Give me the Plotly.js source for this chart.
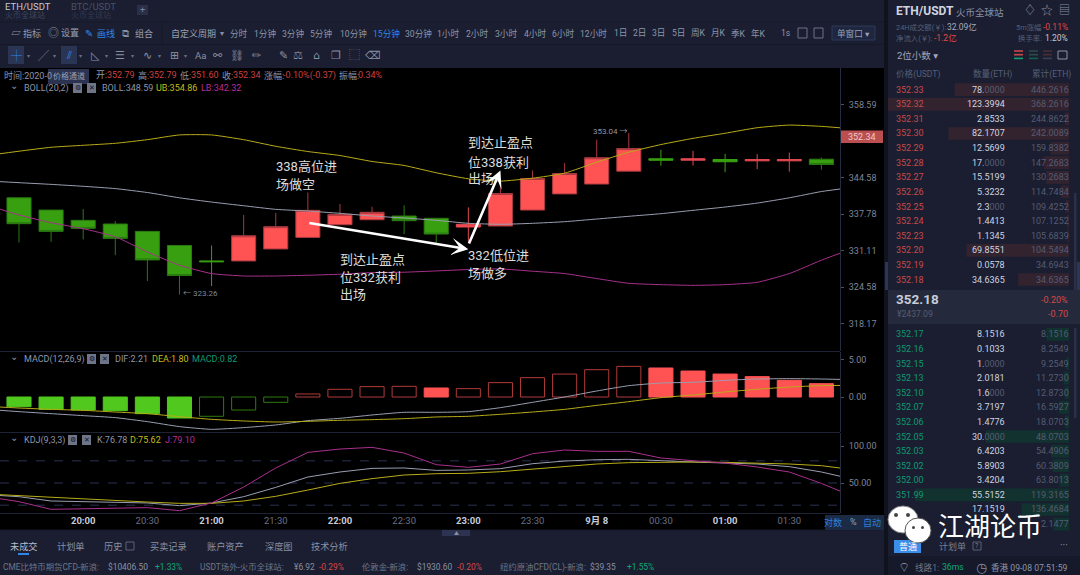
<!DOCTYPE html>
<html><head><meta charset="utf-8">
<script src="https://cdn.plot.ly/plotly-3.0.1.min.js"></script>
<style>html,body{margin:0;padding:0;background:#1a1e30;overflow:hidden}#c{width:1080px;height:575px}</style>
</head><body><div id="c"></div>
<script>
// ---------- chart data ----------
const candleTimes=['19:30','19:45','20:00','20:15','20:30','20:45','21:00','21:15','21:30','21:45','22:00','22:15','22:30','22:45','23:00','23:15','23:30','23:45','00:00','00:15','00:30','00:45','01:00','01:15','01:30','01:45'];
const open_=[340.78,338.51,336.62,335.94,334.6,332.03,329.24,329.24,331.4,333.5,335.81,336.73,337.41,336.99,335.39,335.58,338.51,341.51,343.35,345.77,348.12,347.85,347.98,347.73,347.73,348.04];
const high_=[340.78,338.51,338.7,336.49,334.6,332.03,332.03,337.6,337.96,341.77,339.62,339.12,339.38,336.99,339.01,344.21,345.9,347.29,351.77,353.04,349.82,349.63,349.06,349.0,349.3,348.37];
const low_=[332.58,332.69,333.13,330.27,325.66,323.26,324.76,329.24,331.4,333.5,335.81,336.73,334.11,332.27,332.69,335.58,338.51,341.51,343.35,345.77,346.79,346.85,345.58,346.16,345.7,346.04];
const close_=[336.0,334.6,335.15,333.32,329.42,326.63,329.1,333.79,335.45,338.46,337.72,338.09,336.55,334.11,335.89,341.58,344.4,345.33,348.31,350.07,347.85,348.12,347.55,347.98,347.98,347.04];
const lineTimes=['19:15'].concat(candleTimes,['02:00']);
const bollUp=[348.74,349.56,350.31,350.69,351.07,351.77,352.68,352.68,351.77,350.5,349.5,348.74,347.61,346.85,345.47,344.34,343.9,344.45,345.39,347.48,349.37,350.83,352.02,353.0,354.07,354.58,354.33,353.84];
const bollMid=[343.94,343.61,343.29,342.93,342.5,341.77,340.78,339.99,339.31,338.64,338.33,337.91,337.41,337.05,336.62,336.07,335.89,336.07,336.37,336.86,337.36,337.84,338.46,339.07,339.8,340.78,341.95,342.74];
const bollLow=[339.44,337.6,336.18,335.08,333.61,330.86,328.47,326.98,326.55,326.55,326.68,326.86,327.16,327.22,327.45,327.7,327.81,327.4,326.98,326.09,325.24,325.01,324.88,325.01,325.42,326.98,329.37,331.53];
const macdHist=[-1.31,-1.67,-1.76,-1.85,-2.25,-2.84,-2.61,-1.76,-0.72,0.41,1.04,1.40,1.44,1.22,1.13,1.94,2.61,3.1,3.69,4.14,3.92,3.51,3.1,2.75,2.25,1.8];
const macdHollow=[0,0,0,0,0,0,1,1,1,1,1,1,1,0,1,1,1,1,1,1,0,0,0,0,0,0];
const dif=[-1.67,-1.98,-2.25,-2.52,-2.79,-3.33,-4.0,-4.37,-4.14,-3.78,-3.2,-2.88,-2.43,-2.07,-2.07,-1.98,-1.44,-0.72,0,0.81,1.53,1.89,1.98,2.25,2.43,2.48,2.43,2.34];
const dea=[-1.26,-1.49,-1.67,-1.8,-2.03,-2.25,-2.66,-3.02,-3.24,-3.38,-3.29,-3.15,-3.06,-2.93,-2.7,-2.61,-2.34,-2.03,-1.67,-1.13,-0.63,-0.09,0.27,0.68,1.04,1.35,1.53,1.58];
const kdjK=[34.2,31.5,25.7,24.8,23.9,23.0,19.4,23.0,31.5,44.1,58.1,64.9,69.8,70.3,67.1,67.6,69.4,76.1,79.7,81.5,82.0,79.7,78.4,77.0,75.7,72.1,64.9,55];
const kdjD=[35.1,32.9,30.2,28.4,26.1,24.3,22.5,22.5,25.7,32.0,40.5,49.5,55.9,60.8,62.6,63.1,65.3,68.5,72.5,75.7,77.5,78.4,78.4,77.9,77.0,75.7,73.4,68];
const kdjJ=[31.5,24.8,14.4,14.9,15.8,16.7,12.6,23.0,44.6,70.3,91.4,95.9,98.2,90.5,74.8,71.2,75.7,89.6,94.6,92.8,92.8,83.8,80.2,77.0,71.6,64.9,49.5,31.5];
const kdjLevels=[80,50,20];
const priceTicks=[358.59,344.58,337.78,331.11,324.58,318.17];
const macdTicks=[5,0];
const kdjTicks=[100,50];
const xTickVals=['20:00','20:30','21:00','21:30','22:00','22:30','23:00','23:30','00:00','00:30','01:00','01:30'];
const xTickText=['20:00','20:30','21:00','21:30','22:00','22:30','23:00','23:30','9月 8','00:30','01:00','01:30'];
// order book
const askPrice=['352.33','352.32','352.31','352.30','352.29','352.28','352.27','352.26','352.25','352.24','352.23','352.20','352.19','352.18'];
const askQty=['78.0000','123.3994','2.8533','82.1707','12.5699','17.0000','15.5199','5.3232','2.3000','1.4413','1.1345','69.8551','0.0578','34.6365'];
const askCum=['446.2616','368.2616','244.8622','242.0089','159.8382','147.2683','130.2683','114.7484','109.4252','107.1252','105.6839','104.5494','34.6943','34.6365'];
const bidPrice=['352.17','352.16','352.15','352.13','352.10','352.07','352.06','352.05','352.03','352.02','352.00','351.99','351.98','351.97'];
const bidQty=['8.1516','0.1033','1.0000','2.0181','1.6000','3.7197','1.4776','30.0000','6.4203','5.8903','3.4204','55.5152','17.1519','5.6793'];
const bidCum=['8.1516','8.2549','9.2549','11.2730','12.8730','16.5927','18.0703','48.0703','54.4906','60.3809','63.8013','119.3165','136.4684','152.1477'];
const periods=[['分时',239],['1分钟',265],['3分钟',293],['5分钟',321],['10分钟',353],['15分钟',386],['30分钟',418],['1小时',448],['2小时',477],['3小时',506],['4小时',535],['6小时',563],['12小时',593],['1日',620],['2日',639],['3日',658],['5日',678],['周K',698],['月K',718],['季K',738],['年K',758],['1s',786]];
const notes=[['338高位进',276,166],['场做空',276,184],['到达止盈点',340,259],['位332获利',340,277],['出场',340,294],['到达止盈点',468,143],['位338获利',468,162],['出场',468,178],['332低位进',468,256],['场做多',468,273]];
const tabs=[['未成交',10,'#b8bccb'],['计划单',57,'#8a90a4'],['历史',104,'#8a90a4'],['买卖记录',150,'#8a90a4'],['账户资产',207,'#8a90a4'],['深度图',265,'#8a90a4'],['技术分析',311,'#8a90a4']];
const tickerBits=[['CME比特币期货CFD-新浪:',3,'#6f7588'],['$10406.50',108,'#8a90a4'],['+1.33%',155,'#12a878'],['USDT场外-火币全球站:',200,'#6f7588'],['¥6.92',294,'#8a90a4'],['-0.29%',319,'#d84848'],['伦敦金-新浪:',362,'#6f7588'],['$1930.60',417,'#8a90a4'],['-0.20%',457,'#d84848'],['纽约原油CFD(CL)-新浪:',500,'#6f7588'],['$39.35',590,'#8a90a4'],['+1.55%',627,'#12a878']];
const toolIcons=[['┼',16,'#2f86e8'],['╱',43,'#8a90a4'],['⫽',69,'#2f86e8'],['◺',95,'#8a90a4'],['☰',120,'#8a90a4'],['∿',147,'#8a90a4'],['⊞',174,'#8a90a4'],['Aa',200,'#8a90a4'],['⚯',218,'#8a90a4'],['⛓',237,'#8a90a4'],['✏',257,'#8a90a4'],['✎',283,'#8a90a4'],['⚖',298,'#8a90a4'],['⌂',316,'#8a90a4'],['❐',336,'#8a90a4'],['⬚',354,'#8a90a4'],['⌫',373,'#8a90a4']];
const toolCarets=[28,54,80,106,132,159,185];

// ---------- helpers ----------
const W=1080,H=575,FONT="Roboto,'Noto Sans CJK SC','DejaVu Sans',sans-serif";
const ann=[],shp=[];
const T=(s,x,y,o={})=>ann.push({xref:'paper',yref:'paper',x:x/W,y:1-y/H,text:s,showarrow:false,xanchor:o.a||'left',yanchor:'middle',borderpad:0,borderwidth:0,font:{size:o.s||9,color:o.c||'#8a90a4',family:FONT}});
const R=(x0,y0,x1,y1,fill,o={})=>shp.push({type:'rect',xref:'paper',yref:'paper',x0:x0/W,x1:x1/W,y0:1-y0/H,y1:1-y1/H,fillcolor:fill,line:{width:o.lw||0,color:o.lc||fill},layer:o.layer||'below'});
const L=(x0,y0,x1,y1,c,w=1,layer='below')=>shp.push({type:'line',xref:'paper',yref:'paper',x0:x0/W,x1:x1/W,y0:1-y0/H,y1:1-y1/H,line:{color:c,width:w},layer});
const E=(x0,y0,x1,y1,fill,lc)=>shp.push({type:'circle',xref:'paper',yref:'paper',x0:x0/W,x1:x1/W,y0:1-y0/H,y1:1-y1/H,fillcolor:fill,line:{color:lc||fill,width:lc?1:0},layer:'above'});
const domX=(a,b)=>[a/W,b/W];
const domY=(top,bot)=>[1-bot/H,1-top/H];

// ---------- chrome: backgrounds ----------
const PANEL='#1a1e30';
R(0,68,884,530,'#000000');
R(884,0,888,575,'#10131e');
R(885,262,888,290,'#2c3555');R(1077,262,1080,290,'#2c3555');
L(0,22,884,22,'#141828');L(0,44.5,884,44.5,'#141828');L(162,23,162,44,'#141828');
L(0,351.5,840,351.5,'#1e2436');L(0,432.5,840,432.5,'#1e2436');L(0,513.5,840,513.5,'#1e2436');
L(0,530,884,530,'#141828');
R(825,515,884,530,'#1b2a45');
R(442,530,470,536,'#2c3350');T('▲',456,533,{a:'center',s:5,c:'#8a90a4'});

// top tabs
T('ETH/USDT',5,7,{s:9.5,c:'#c4c8d4'});T('火币全球站',5,15,{s:8,c:'#3f465c'});
T('BTC/USDT',71,7,{s:9.5,c:'#4a5066'});T('火币全球站',71,15,{s:8,c:'#323850'});
R(137,5,148,15,'#2a3048');T('+',142.5,10,{a:'center',s:9,c:'#7a8098'});

// toolbar row 1
T('▱',11,33,{s:10});T('指标',23,33,{s:9,c:'#9aa0b2'});
T('◎',48,33,{s:11});T('设置',61,33,{s:9,c:'#9aa0b2'});
T('✎',85,33,{s:10,c:'#2f86e8'});T('画线',97,33,{s:9,c:'#2f86e8'});
T('⧉',122,33,{s:10});T('组合',135,33,{s:9,c:'#9aa0b2'});
T('自定义周期',171,33,{s:9,c:'#9aa0b2'});T('▾',222,33,{a:'center',s:8});
periods.forEach(p=>T(p[0],p[1],33,{a:'center',s:8.6,c:p[0]==='15分钟'?'#2f86e8':'#8f95a8'}));
R(798,28,807,38,PANEL,{lw:1,lc:'#6a7086'});R(814,28,823,38,PANEL,{lw:1,lc:'#6a7086'});
R(832,26,875,40,'#1f2740',{lw:1,lc:'#2f3a58'});T('单窗口 ▾',853,33,{a:'center',s:8.6,c:'#9aa0b2'});

// toolbar row 2
R(8,46,24,64,'#2a3554');R(61,46,77,64,'#2a3554');
toolIcons.forEach(t=>T(t[0],t[1],56,{a:'center',s:t[0]==='Aa'?9.5:11,c:t[2]}));
toolCarets.forEach(x=>T('▾',x,56,{a:'center',s:6,c:'#6a7086'}));

// info line
T('时间:2020-0',4,75,{c:'#8f95a8'});
R(48,69,89,84,'#2c3350');T('价格通道',68.5,76,{a:'center',s:8,c:'#9aa0b2'});
const red='#cc4040';
[['开:',96,'352.79',107],['高:',138,'352.79',149],['低:',180,'351.60',191],['收:',222,'352.34',233],['涨幅:',264,'-0.10%(-0.37)',283],['振幅:',339,'0.34%',358]].forEach(a=>{T(a[0],a[1],75,{c:'#8f95a8'});T(a[2],a[3],75,{c:red});});

// indicator headers
const iconBoxes=(a,b,y)=>{[a,b].forEach((x,i)=>{R(x,y-5,x+9,y+5,'#6f7588');T(i?'✕':'⚙',x+4.5,y,{a:'center',s:7,c:'#10131e'});});};
T('⌄',14,85,{a:'center',s:10});T('BOLL(20,2)',24,88,{c:'#8f95a8'});iconBoxes(73,87,88);
T('BOLL:348.59',102,88,{c:'#8f95a8'});T('UB:354.86',156,88,{c:'#c4bc1c'});T('LB:342.32',201,88,{c:'#b82c98'});
T('⌄',14,356,{a:'center',s:10});T('MACD(12,26,9)',24,359,{c:'#8f95a8'});iconBoxes(87,100,359);
T('DIF:2.21',115,359,{c:'#8f95a8'});T('DEA:1.80',152,359,{c:'#c4bc1c'});T('MACD:0.82',192,359,{c:'#0f9a70'});
T('⌄',14,437,{a:'center',s:10});T('KDJ(9,3,3)',24,440,{c:'#8f95a8'});iconBoxes(68,82,440);
T('K:76.78',97,440,{c:'#8f95a8'});T('D:75.62',130,440,{c:'#c4bc1c'});T('J:79.10',165,440,{c:'#b82c98'});

// on-chart labels
T('← 323.26',183,293,{s:8,c:'#7f8699'});T('353.04 →',593,132,{s:8,c:'#8f95a8'});
R(840,130.5,883,143,'#bb4e4e');T('352.34',861.5,137,{a:'center',s:9,c:'#eccccc'});
notes.forEach(n=>T(n[0],n[1],n[2],{s:13,c:'#dcdcdc'}));
// arrows, in chart coordinates (category index, log10 price)
[[10,336.18,15,331.35],[15,332.1,16,345.9]].forEach(a=>ann.push({xref:'x',yref:'y',axref:'x',ayref:'y',x:a[2],y:Math.log10(a[3]),ax:a[0],ay:Math.log10(a[1]),text:'',showarrow:true,arrowcolor:'#ffffff',arrowwidth:2.6,arrowhead:3,arrowsize:1.1}));

// scale buttons
T('对数',833,522,{a:'center',s:9,c:'#2f7fd8'});T('%',853,522,{a:'center',s:9,c:'#9aa0b2'});T('自动',872,522,{a:'center',s:9,c:'#2f7fd8'});

// bottom tabs and ticker
tabs.forEach(t=>T(t[0],t[1],546,{s:9.2,c:t[2]}));
R(126,542,134,550,PANEL,{lw:1,lc:'#5a6078'});
L(18,554,29,554,'#2f86e8',2);
tickerBits.forEach(t=>T(t[0],t[1],567,{s:8.4,c:t[2]}));

// right panel header
T('<b>ETH/USDT</b>',896,11,{s:12,c:'#d0d4e0'});T('火币全球站',956,12,{s:9.5,c:'#8a90a8'});
T('♢',1030,11,{a:'center',s:12,c:'#8a90a4'});T('☆',1047,11,{a:'center',s:12,c:'#8a90a4'});T('▤',1064,11,{a:'center',s:11,c:'#8a90a4'});
T('24H成交额(￥):',896,27,{s:7.4,c:'#565e78'});T('32.09亿',947,27,{s:8.5,c:'#a8acbc'});
T('5m涨幅',1016,27,{s:7.4,c:'#565e78'});T('-0.11%',1068,27,{a:'right',s:8.5,c:'#e04848'});
T('净流入(￥):',896,38,{s:7.4,c:'#565e78'});T('-1.2亿',934,38,{s:8.5,c:'#e04848'});
T('换手率:',1018,38,{s:7.4,c:'#565e78'});T('1.20%',1068,38,{a:'right',s:8.5,c:'#c4c8d4'});
T('2位小数 ▾',897,56,{s:9.5,c:'#a4a9bc'});
[[1014,['#c84848','#c84848','#14a074']],[1029,['#2c4a48','#2c4a48','#14604c']],[1043,['#4a2c34','#4a2c34','#3a3f52']]].forEach(g=>g[1].forEach((c,i)=>L(g[0],51+i*3.7,g[0]+9,51+i*3.7,c,1.6)));
R(1058,51,1067,59,PANEL,{lw:1,lc:'#8a90a4'});
T('价格(USDT)',896,74,{s:8.6,c:'#565e78'});T('数量(ETH)',1012,74,{a:'right',s:8.6,c:'#565e78'});T('累计(ETH)',1071,74,{a:'right',s:8.6,c:'#565e78'});

// order book text
const qtyText=s=>{const m=s.match(/^(.*?)(0*)$/);return '<span style="color:#d0d4e0">'+m[1]+'</span>'+(m[2]?'<span style="color:#565c72">'+m[2]+'</span>':'');};
askPrice.forEach((p,i)=>{const y=89.7+14.6*i;T(p,896,y,{c:'#c84a4a'});T(qtyText(askQty[i]),1005,y,{a:'right'});T(askCum[i],1069,y,{a:'right',c:'#565c72'});});
R(888,290,1080,324,'#242a3c');
T('<b>352.18</b>',896,299,{s:13.5,c:'#c8ccd8'});T('-0.20%',1068,300,{a:'right',s:9,c:'#d84848'});
T('¥2437.09',897,314,{s:8.6,c:'#565c72'});T('-0.70',1068,314,{a:'right',s:9,c:'#d84848'});
bidPrice.forEach((p,i)=>{const y=334.3+14.6*i;if(i<12)T(p,896,y,{c:'#0f9a70'});if(i<13)T(qtyText(bidQty[i]),1005,y,{a:'right'});if(i<13)T(bidCum[i],1069,y,{a:'right',c:'#565c72'});});
T('2.1477',1069,524,{a:'right',c:'#565c72'});
R(1074,193,1076.5,290,'#2a3048');R(1074,328,1076.5,418,'#2a3048');

// right panel foot
R(888,532,1080,556,PANEL);
R(894,540,921,553,'#3a8de8');T('普通',907.5,546.5,{a:'center',s:9,c:'#ffffff'});
T('计划单',939,546,{s:9,c:'#7a8094'});R(973,542,981,550,PANEL,{lw:1,lc:'#5a6078'});T('?',977,546,{a:'center',s:7,c:'#7a8094'});
T('···',1064,545,{a:'center',s:10,c:'#8a90a4'});
R(888,556,1080,575,'#151929');
T('⌔',904,567,{a:'center',s:13,c:'#8a90a4'});T('线路1:',915,567,{s:8.6,c:'#6f7588'});T('36ms',942,567,{s:8.6,c:'#12a878'});
T('◷',981,567,{a:'center',s:13,c:'#8a90a4'});T('香港 09-08 07:51:59',991,567,{s:8.6,c:'#8f95a8'});

// watermark
E(888,506,918,533,'#ffffff','#888888');E(905,518,931,543,'#ffffff','#555555');
E(894,513,898,517,'#444444');E(906,513,910,517,'#444444');E(912,526,915,529,'#444444');E(921,526,924,529,'#444444');
T('江湖论币',938,527,{s:26,c:'#ffffff'});

// ---------- traces ----------
const isDoji=candleTimes.map((t,i)=>Math.abs(open_[i]-close_[i])<0.6);
const pick=(a,want)=>a.filter((v,i)=>isDoji[i]===want);
const candle=(want,up,dn,upFill,dnFill)=>({type:'candlestick',x:pick(candleTimes,want),open:pick(open_,want),high:pick(high_,want),low:pick(low_,want),close:pick(close_,want),xaxis:'x',yaxis:'y',whiskerwidth:0,
  increasing:{line:{color:up,width:1},fillcolor:upFill},decreasing:{line:{color:dn,width:1},fillcolor:dnFill},showlegend:false});
const line=(y,c,ya,shape='spline')=>({type:'scatter',mode:'lines',x:lineTimes,y,xaxis:'x',yaxis:ya,line:{color:c,width:1,shape,smoothing:0.5},showlegend:false});
const RED='#ff5252',GRN='#38a010',LIME='#50c81e';
const traces=[
  candle(false,'#a83a40','#2a7a12',RED,GRN),
  candle(true,'#e04850','#38a010',RED,GRN),
  line(bollUp,'#b8ac18','y'),line(bollMid,'#9a9eb0','y'),line(bollLow,'#a8308c','y'),
  {type:'bar',x:candleTimes,y:macdHist,xaxis:'x',yaxis:'y2',width:0.75,showlegend:false,
   marker:{color:macdHist.map((v,i)=>macdHollow[i]?'#000000':(v>0?RED:LIME)),
           line:{width:1,color:macdHist.map((v,i)=>v>0?(macdHollow[i]?'#b03a3a':RED):(macdHollow[i]?'#2c7a10':LIME))}}},
  line(dif,'#9a9eb0','y2'),line(dea,'#b8ac18','y2'),
  line(kdjK,'#9a9eb0','y3','linear'),line(kdjD,'#b8ac18','y3','linear'),line(kdjJ,'#a8308c','y3','linear'),
  {type:'bar',orientation:'h',y:askPrice,x:askQty.map(Number),xaxis:'x2',yaxis:'y4',width:0.87,marker:{color:'#33232f',line:{width:0}},showlegend:false},
  {type:'bar',orientation:'h',y:bidPrice,x:bidQty.map(Number),xaxis:'x3',yaxis:'y5',width:0.87,marker:{color:'#12322f',line:{width:0}},showlegend:false}
];
kdjLevels.forEach(v=>shp.push({type:'line',xref:'x domain',x0:0,x1:1,yref:'y3',y0:v,y1:v,line:{color:'#2a3050',width:1,dash:'dash'},layer:'below'}));

const yCommon={side:'right',anchor:'x',showgrid:false,zeroline:false,showline:true,linecolor:'#262c40',linewidth:1,ticks:'outside',ticklen:3,tickcolor:'#4a5066',tickfont:{size:9,color:'#7f8699',family:FONT},ticklabelstandoff:3,tickmode:'array'};
const bookY={type:'category',visible:false,range:[13.5,-0.5],fixedrange:true};
const layout={width:W,height:H,margin:{l:0,r:0,t:0,b:0,pad:0},paper_bgcolor:PANEL,plot_bgcolor:'rgba(0,0,0,0)',
  font:{family:FONT},hovermode:false,showlegend:false,boxmode:'overlay',boxgap:0.25,boxgroupgap:0,bargap:0.25,
  annotations:ann,shapes:shp,
  xaxis:{domain:domX(0,840),anchor:'y3',type:'category',categoryorder:'array',categoryarray:lineTimes,range:[0.408,26.58],showgrid:false,zeroline:false,showline:false,ticks:'',
    rangeslider:{visible:false},tickmode:'array',tickvals:xTickVals,
    ticktext:xTickText.map(t=>/:00$|月/.test(t)?'<b><span style="color:#c8ccd8">'+t+'</span></b>':t),
    tickfont:{size:9.5,color:'#6a7086',family:FONT},tickangle:0},
  yaxis:Object.assign({},yCommon,{domain:domY(68,351),type:'log',range:[Math.log10(313.45),Math.log10(365.8)],tickvals:priceTicks,ticktext:priceTicks.map(v=>v.toFixed(2))}),
  yaxis2:Object.assign({},yCommon,{domain:domY(352,432),range:[-4.73,6.08],tickvals:macdTicks,ticktext:macdTicks.map(v=>v.toFixed(2))}),
  yaxis3:Object.assign({},yCommon,{domain:domY(433,513),range:[9.46,117.6],tickvals:kdjTicks,ticktext:kdjTicks.map(v=>v.toFixed(2))}),
  xaxis2:{domain:domX(888,1069),anchor:'y4',range:[123.39,0],visible:false,fixedrange:true},
  yaxis4:Object.assign({},bookY,{domain:domY(82.4,286.8),anchor:'x2'}),
  xaxis3:{domain:domX(888,1069),anchor:'y5',range:[65.3,0],visible:false,fixedrange:true},
  yaxis5:Object.assign({},bookY,{domain:domY(327,531.4),anchor:'x3'})
};
Plotly.newPlot('c',traces,layout,{staticPlot:true,displayModeBar:false});
</script></body></html>
